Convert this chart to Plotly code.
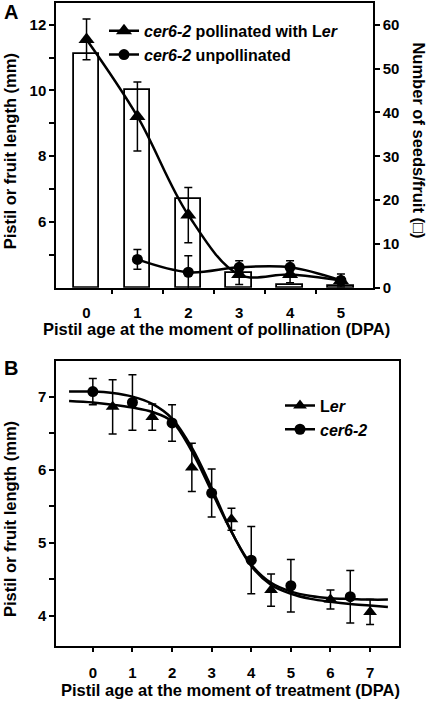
import plotly.graph_objects as go

# ---------------- Panel A data ----------------
dpa_a = [0, 1, 2, 3, 4, 5]
seeds = [53.3, 45.1, 20.3, 3.4, 0.7, 0.3]
poll_len = [11.55, 9.21, 6.21, 4.40, 4.40, 4.22]
poll_err = [0.62, 1.05, 0.84, 0.30, 0.25, 0.20]
unpoll_x = [1, 2, 3, 4, 5]
unpoll_len = [4.86, 4.47, 4.62, 4.62, 4.22]
unpoll_err = [0.30, 0.50, 0.20, 0.20, 0.10]

# ---------------- Panel B data ----------------
ler_x = [0.5, 1.5, 2.5, 3.5, 4.5, 6, 7]
ler_y = [6.86, 6.72, 6.03, 5.32, 4.35, 4.22, 4.05]
ler_err = [0.37, 0.18, 0.33, 0.15, 0.22, 0.13, 0.17]
cer_x = [0, 1, 2, 3, 4, 5, 6.5]
cer_y = [7.07, 6.92, 6.64, 5.68, 4.76, 4.41, 4.26]
cer_err = [0.18, 0.38, 0.25, 0.33, 0.46, 0.36, 0.36]

# fitted curves
fit_x = [-0.6, 0, 0.5, 1, 1.5, 2, 2.5, 3, 3.5, 4, 4.5, 5, 5.5, 6, 6.5, 7, 7.45]
fit_cer = [7.07, 7.07, 7.05, 7.00, 6.90, 6.70, 6.30, 5.75, 5.15, 4.70, 4.45, 4.33, 4.27, 4.24, 4.23, 4.22, 4.22]
fit_ler = [6.94, 6.92, 6.89, 6.85, 6.79, 6.66, 6.25, 5.70, 5.15, 4.68, 4.42, 4.30, 4.23, 4.19, 4.16, 4.14, 4.12]

FONT = "Liberation Sans"
BLACK = "black"
W, H = 427, 707


def px(v):
    return v / W


def py(v):
    return 1 - v / H


fig = go.Figure()

# Bars (base axis y, right side)
fig.add_trace(go.Bar(x=dpa_a, y=seeds, width=0.5, xaxis="x", yaxis="y",
                     marker=dict(color="white", line=dict(color=BLACK, width=1.8)),
                     showlegend=False))

err_style = dict(type="data", thickness=1.5, width=4, color=BLACK)

fig.add_trace(go.Scatter(x=dpa_a, y=poll_len, xaxis="x", yaxis="y2",
                         mode="lines+markers",
                         name="<i>cer6-2</i> pollinated with L<i>er</i>",
                         line=dict(color=BLACK, width=2.5, shape="spline"),
                         marker=dict(symbol="triangle-up", size=14, color=BLACK),
                         error_y=dict(array=poll_err, **err_style),
                         legend="legend"))
fig.add_trace(go.Scatter(x=unpoll_x, y=unpoll_len, xaxis="x", yaxis="y2",
                         mode="lines+markers",
                         name="<i>cer6-2</i> unpollinated",
                         line=dict(color=BLACK, width=2.5, shape="spline"),
                         marker=dict(symbol="circle", size=11, color=BLACK),
                         error_y=dict(array=unpoll_err, **err_style),
                         legend="legend"))

# Panel B
fig.add_trace(go.Scatter(x=fit_x, y=fit_ler, xaxis="x2", yaxis="y3", mode="lines",
                         line=dict(color=BLACK, width=2.5, shape="spline"),
                         showlegend=False, hoverinfo="skip"))
fig.add_trace(go.Scatter(x=fit_x, y=fit_cer, xaxis="x2", yaxis="y3", mode="lines",
                         line=dict(color=BLACK, width=2.5, shape="spline"),
                         showlegend=False, hoverinfo="skip"))
fig.add_trace(go.Scatter(x=ler_x, y=ler_y, xaxis="x2", yaxis="y3", mode="markers",
                         marker=dict(symbol="triangle-up", size=12, color=BLACK),
                         error_y=dict(array=ler_err, **err_style),
                         showlegend=False))
fig.add_trace(go.Scatter(x=cer_x, y=cer_y, xaxis="x2", yaxis="y3", mode="markers",
                         marker=dict(symbol="circle", size=11, color=BLACK),
                         error_y=dict(array=cer_err, **err_style),
                         showlegend=False))
# legend entries for panel B (line + marker symbols)
fig.add_trace(go.Scatter(x=[None], y=[None], xaxis="x2", yaxis="y3", mode="lines+markers",
                         name="L<i>er</i>", line=dict(color=BLACK, width=2.5),
                         marker=dict(symbol="triangle-up", size=12, color=BLACK),
                         legend="legend2"))
fig.add_trace(go.Scatter(x=[None], y=[None], xaxis="x2", yaxis="y3", mode="lines+markers",
                         name="<i>cer6-2</i>", line=dict(color=BLACK, width=2.5),
                         marker=dict(symbol="circle", size=11, color=BLACK),
                         legend="legend2"))

tickfont = dict(family=FONT, size=15, color=BLACK, weight="bold")
axline = dict(showline=True, linecolor=BLACK, linewidth=1.5, showgrid=False,
              zeroline=False, tickfont=tickfont, tickwidth=1.5)

fig.update_layout(
    width=W, height=H,
    margin=dict(l=0, r=0, t=0, b=0),
    paper_bgcolor="white", plot_bgcolor="rgba(0,0,0,0)",
    font=dict(family=FONT, color=BLACK),
    xaxis=dict(domain=[px(56), px(373)], range=[-0.6, 5.63], anchor="y2",
               tickmode="array", tickvals=dpa_a, ticks="outside", ticklen=5,
               tickcolor="rgba(0,0,0,0)", ticklabelstandoff=6, mirror=True,
               minor=dict(tickmode="array", tickvals=[0.5, 1.5, 2.5, 3.5, 4.5],
                          ticks="outside", ticklen=5, tickcolor=BLACK, tickwidth=1.5),
               **axline),
    yaxis=dict(domain=[py(291), py(3)], range=[0, 65], side="right", anchor="x",
               tickmode="array", tickvals=[0, 10, 20, 30, 40, 50, 60],
               ticks="outside", ticklen=5, tickcolor=BLACK, **axline),
    yaxis2=dict(domain=[py(291), py(3)], range=[4, 12.66], side="left",
                overlaying="y", anchor="x",
                tickmode="array", tickvals=[6, 8, 10, 12], ticks="outside", ticklen=5,
                tickcolor=BLACK,
                minor=dict(tickmode="array", tickvals=[5, 7, 9, 11],
                           ticks="outside", ticklen=5, tickcolor=BLACK, tickwidth=1.5),
                **axline),
    xaxis2=dict(domain=[px(56), px(399)], range=[-0.93, 7.73], anchor="y3",
                tickmode="array", tickvals=[0, 1, 2, 3, 4, 5, 6, 7],
                ticks="outside", ticklen=5, tickcolor=BLACK, ticklabelstandoff=8,
                mirror=True, **axline),
    yaxis3=dict(domain=[py(653), py(365)], range=[3.59, 7.49], anchor="x2",
                tickmode="array", tickvals=[4, 5, 6, 7], ticks="outside", ticklen=5,
                tickcolor=BLACK, mirror=True,
                minor=dict(tickmode="array", tickvals=[4.5, 5.5, 6.5],
                           ticks="outside", ticklen=5, tickcolor=BLACK, tickwidth=1.5),
                **axline),
    legend=dict(x=px(104), y=py(14), xanchor="left", yanchor="top",
                bgcolor="rgba(0,0,0,0)",
                font=dict(family=FONT, size=16, color=BLACK, weight="bold"),
                tracegroupgap=0),
    legend2=dict(x=px(280), y=py(393), xanchor="left", yanchor="top",
                 bgcolor="rgba(0,0,0,0)",
                 font=dict(family=FONT, size=16, color=BLACK, weight="bold"),
                 tracegroupgap=0),
    bargap=0,
)

title_font = dict(family=FONT, size=16.5, color=BLACK, weight="bold")
annos = [
    dict(text="A", x=px(2), y=py(12), xanchor="left", yanchor="middle",
         font=dict(family=FONT, size=20, color=BLACK, weight="bold")),
    dict(text="B", x=px(2), y=py(372), xanchor="left", yanchor="middle",
         font=dict(family=FONT, size=20, color=BLACK, weight="bold")),
    dict(text="Pistil or fruit length (mm)", x=px(10), y=py(153), textangle=-90,
         xanchor="center", yanchor="middle", font=title_font),
    dict(text="Number of seeds/fruit (\u25a1)", x=px(419), y=py(142), textangle=90,
         xanchor="center", yanchor="middle", font=title_font),
    dict(text="Pistil age at the moment of pollination (DPA)", x=px(216), y=py(333),
         xanchor="center", yanchor="middle", font=title_font),
    dict(text="Pistil or fruit length (mm)", x=px(10), y=py(525), textangle=-90,
         xanchor="center", yanchor="middle", font=title_font),
    dict(text="Pistil age at the moment of treatment (DPA)", x=px(230), y=py(698),
         xanchor="center", yanchor="middle", font=title_font),
]
for a in annos:
    a.update(xref="paper", yref="paper", showarrow=False)
fig.update_layout(annotations=annos)

fig.write_html("out.html",
               config={"displayModeBar": False},
               post_script="document.body.style.margin='0px';"
                           "document.body.style.overflow='hidden';")
